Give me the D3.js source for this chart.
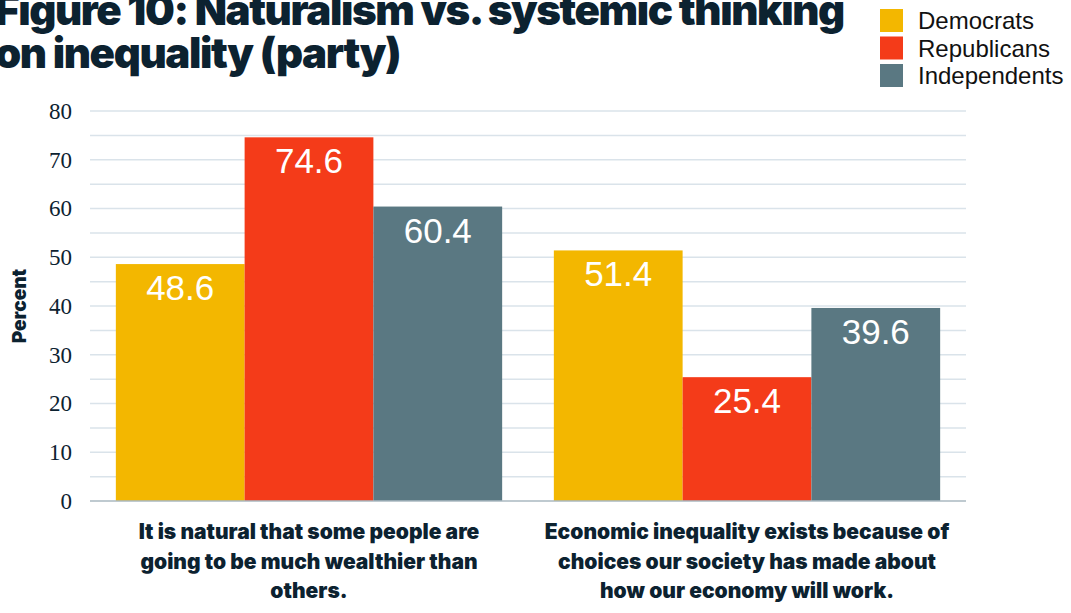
<!DOCTYPE html>
<html>
<head>
<meta charset="utf-8">
<script src="https://cdn.jsdelivr.net/npm/d3@7"></script>
<style>
  html, body { margin: 0; padding: 0; background: #fff; }
  svg { display: block; }
</style>
</head>
<body>
<svg id="chart" width="1071" height="613"></svg>
<script>
// Survey statements (x categories), wrapped into lines for display
const statements = [
  "It is natural that some people are going to be much wealthier than others.",
  "Economic inequality exists because of choices our society has made about how our economy will work."
];
const statementLines = [
  ["It is natural that some people are", "going to be much wealthier than", "others."],
  ["Economic inequality exists because of", "choices our society has made about", "how our economy will work."]
];
const parties = ["Democrats", "Republicans", "Independents"];
const democrats    = [48.6, 51.4];
const republicans  = [74.6, 25.4];
const independents = [60.4, 39.6];
const yTicks = [0, 10, 20, 30, 40, 50, 60, 70, 80];
const gridValues = [0, 5, 10, 15, 20, 25, 30, 35, 40, 45, 50, 55, 60, 65, 70, 75, 80];
const colors = ["#F3B700", "#F43B19", "#5A7882"];
const titleLines = ["Figure 10: Naturalism vs. systemic thinking", "on inequality (party)"];

const seriesValues = [democrats, republicans, independents];
const rows = statements.map((s, i) => ({
  statement: s,
  values: parties.map((p, j) => ({ party: p, value: seriesValues[j][i], color: colors[j] }))
}));

const svg = d3.select("#chart");
const plotLeft = 90, plotRight = 966, plotTop = 111, plotBottom = 501;

const x0 = d3.scaleBand().domain(statements).range([plotLeft, plotRight]).paddingInner(0.118).paddingOuter(0.059);
const x1 = d3.scaleBand().domain(parties).range([0, x0.bandwidth()]);
const y = d3.scaleLinear().domain([0, 80]).range([plotBottom, plotTop]);

// Title (two lines, heavy face, runs off the top-left edge)
const title = svg.append("g");
titleLines.forEach((t, i) => {
  title.append("text")
    .attr("x", -5).attr("y", 25 + i * 43)
    .attr("font-family", "Inter").attr("font-weight", 900)
    .attr("font-size", 42).attr("fill", "#0c2230")
    .attr("letter-spacing", -1.4)
    .text(t);
});

// Gridlines every 5 units
svg.append("g").selectAll("line").data(gridValues.filter(v => v > 0)).join("line")
  .attr("x1", plotLeft).attr("x2", plotRight)
  .attr("y1", d => y(d)).attr("y2", d => y(d))
  .attr("stroke", "#dae3ea").attr("stroke-width", 1.5);

// Y axis labels
const yAxis = svg.append("g").attr("transform", `translate(${plotLeft},0)`)
  .call(d3.axisLeft(y).tickValues(yTicks).tickSize(0).tickPadding(18));
yAxis.select(".domain").remove();
yAxis.selectAll("text")
  .attr("font-family", "Liberation Serif").attr("font-size", 23).attr("fill", "#0c2230");

svg.append("text")
  .attr("transform", `translate(26,${(plotTop + plotBottom) / 2}) rotate(-90)`)
  .attr("text-anchor", "middle")
  .attr("font-family", "Inter").attr("font-weight", 900).attr("font-size", 19)
  .attr("fill", "#0c2230")
  .text("Percent");

// Bars
const groups = svg.append("g").selectAll("g").data(rows).join("g")
  .attr("transform", d => `translate(${x0(d.statement)},0)`);

groups.selectAll("rect").data(d => d.values).join("rect")
  .attr("x", d => x1(d.party)).attr("width", x1.bandwidth())
  .attr("y", d => y(d.value)).attr("height", d => y(0) - y(d.value))
  .attr("fill", d => d.color);

groups.selectAll("text").data(d => d.values).join("text")
  .attr("x", d => x1(d.party) + x1.bandwidth() / 2)
  .attr("y", d => y(d.value) + 36)
  .attr("text-anchor", "middle")
  .attr("font-family", "Liberation Sans").attr("font-size", 35).attr("fill", "#fff")
  .text(d => d.value.toFixed(1));

// Zero baseline
svg.append("line")
  .attr("x1", plotLeft).attr("x2", plotRight).attr("y1", y(0)).attr("y2", y(0))
  .attr("stroke", "#aab8c0").attr("stroke-width", 1.5);

// Category labels
const cat = svg.append("g");
statements.forEach((s, i) => {
  const cx = x0(s) + x0.bandwidth() / 2;
  statementLines[i].forEach((line, k) => {
    cat.append("text")
      .attr("x", cx).attr("y", 539 + k * 29.5)
      .attr("text-anchor", "middle")
      .attr("font-family", "Inter").attr("font-weight", 900).attr("font-size", 21)
      .attr("fill", "#0c2230")
      .text(line);
  });
});

// Legend
const legend = svg.append("g");
parties.forEach((p, i) => {
  legend.append("rect")
    .attr("x", 880).attr("y", 9 + i * 27.5).attr("width", 23).attr("height", 23)
    .attr("fill", colors[i]);
  legend.append("text")
    .attr("x", 918).attr("y", 29 + i * 27.5)
    .attr("font-family", "Liberation Sans").attr("font-size", 24).attr("fill", "#111")
    .text(p);
});
</script>
</body>
</html>
